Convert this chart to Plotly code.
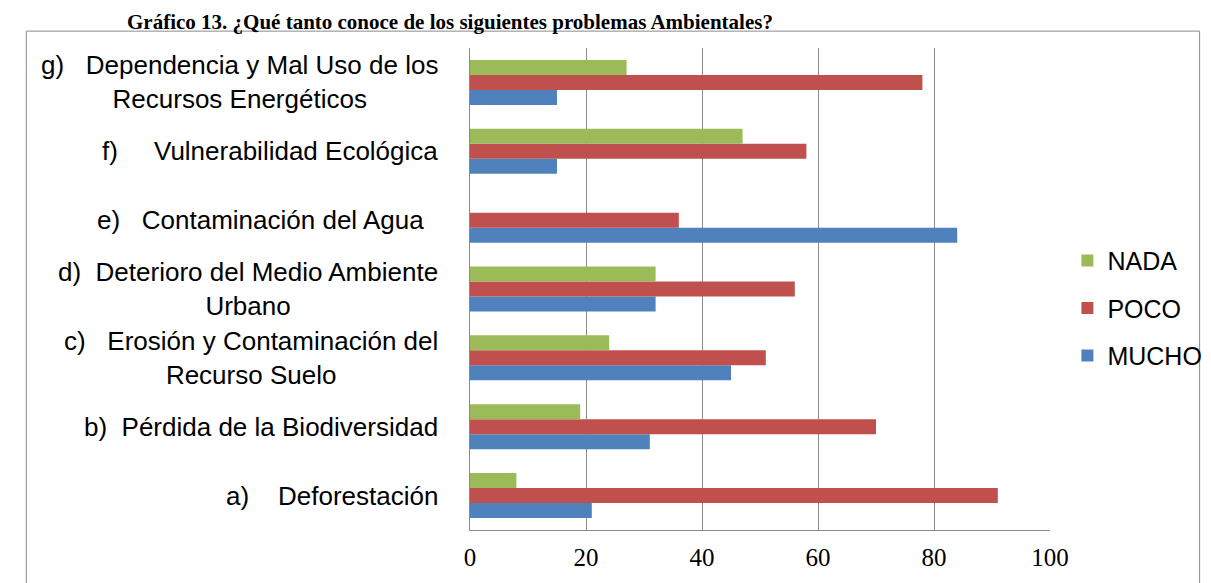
import plotly.graph_objects as go

# survey answers per environmental problem (percent), bottom to top
categories = ["a", "b", "c", "d", "e", "f", "g"]
category_labels = [
    "a)\u00a0\u00a0\u00a0 Deforestación",
    "b)\u00a0 Pérdida de la Biodiversidad",
    "c)\u00a0\u00a0 Erosión y Contaminación del<br>Recurso Suelo",
    "d)\u00a0 Deterioro del Medio Ambiente<br>Urbano",
    "e)\u00a0\u00a0 Contaminación del Agua\u00a0\u00a0",
    "f)\u00a0\u00a0\u00a0\u00a0 Vulnerabilidad Ecológica",
    "g)\u00a0\u00a0 Dependencia y Mal Uso de los<br>Recursos Energéticos",
]
mucho = [21, 31, 45, 32, 84, 15, 15]
poco = [91, 70, 51, 56, 36, 58, 78]
nada = [8, 19, 24, 32, 0, 47, 27]

x_ticks = [0, 20, 40, 60, 80, 100]
title_text = "Gráfico 13. ¿Qué tanto conoce de los siguientes problemas Ambientales?"

fig = go.Figure()
# plotly draws the first trace at the bottom of each group
for name, vals, color, rank in [
    ("MUCHO", mucho, "#4F81BD", 3),
    ("POCO", poco, "#C0504D", 2),
    ("NADA", nada, "#9BBB59", 1),
]:
    fig.add_trace(
        go.Bar(
            y=categories,
            x=vals,
            name=name,
            orientation="h",
            marker=dict(color=color, line=dict(width=0)),
            legendgroup=name,
            legendrank=rank,
        )
    )

label_font = dict(family="Liberation Sans, Arial", size=26, color="#000000")
serif = "Liberation Serif, Cambria, serif"

annotations = []
for cat, lab in zip(categories, category_labels):
    annotations.append(
        dict(
            text=lab,
            xref="paper",
            yref="y",
            x=-0.052,
            y=cat,
            xanchor="right",
            yanchor="middle",
            align="center",
            showarrow=False,
            font=label_font,
        )
    )

# title above the chart frame
annotations.append(
    dict(
        text="<b>" + title_text + "</b>",
        xref="paper",
        yref="paper",
        x=-0.595,
        y=1.083,
        xanchor="left",
        yanchor="top",
        showarrow=False,
        font=dict(family=serif, size=21, color="#000000"),
    )
)

fig.update_layout(
    width=1211,
    height=583,
    margin=dict(l=462, r=157, t=40, b=61),
    barmode="group",
    bargap=0.346,
    bargroupgap=0,
    plot_bgcolor="white",
    paper_bgcolor="white",
    showlegend=True,
    legend=dict(
        x=1.03,
        y=0.46,
        xanchor="left",
        yanchor="middle",
        traceorder="grouped",
        tracegroupgap=12,
        font=dict(family="Liberation Sans, Arial", size=25, color="#000000"),
        bgcolor="rgba(0,0,0,0)",
    ),
    xaxis=dict(
        range=[0, 100],
        tickvals=x_ticks,
        showgrid=True,
        gridcolor="#8a8a8a",
        gridwidth=1,
        zeroline=False,
        showline=True,
        linecolor="#8a8a8a",
        linewidth=1,
        ticks="",
        ticklabelstandoff=5,
        tickfont=dict(family=serif, size=25, color="#000000"),
        fixedrange=True,
    ),
    yaxis=dict(
        categoryorder="array",
        categoryarray=categories,
        showticklabels=False,
        showgrid=False,
        showline=True,
        linecolor="#8a8a8a",
        linewidth=1,
        ticks="",
        fixedrange=True,
    ),
    annotations=annotations,
    shapes=[
        # outer chart frame
        dict(
            type="rect",
            xref="paper",
            yref="paper",
            x0=-0.765,
            x1=1.258,
            y0=-0.15,
            y1=1.035,
            line=dict(color="#8a8a8a", width=1),
            fillcolor="rgba(0,0,0,0)",
            layer="below",
        )
    ],
)

fig.write_html("out.html", config={"displayModeBar": False})
